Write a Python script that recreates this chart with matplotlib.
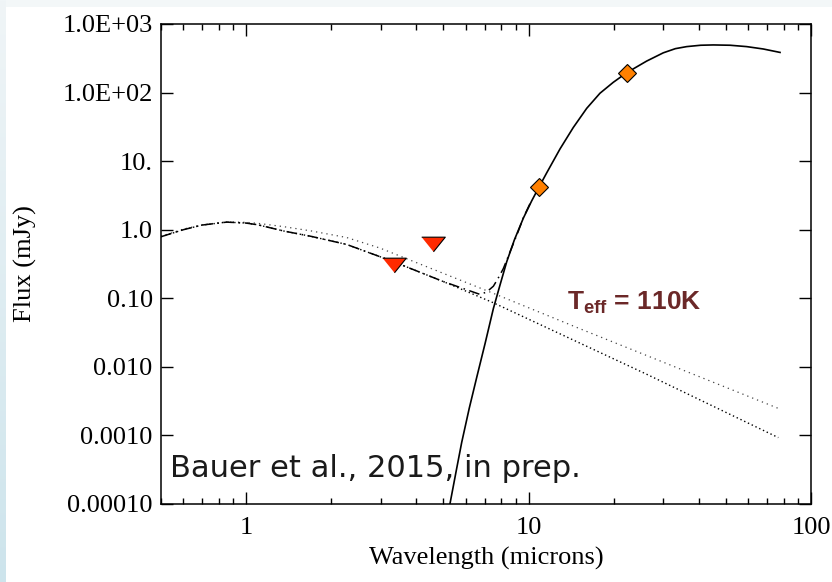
import numpy as np
import matplotlib
matplotlib.use("Agg")
import matplotlib.pyplot as plt
from matplotlib.ticker import FixedLocator, NullFormatter

plt.rcParams['mathtext.fontset'] = 'custom'
plt.rcParams['mathtext.bf'] = 'Liberation Sans:bold'
plt.rcParams['mathtext.rm'] = 'Liberation Sans'

# thermal model (solid)
thermal_x = [5.27, 5.56, 5.80, 6.17, 6.56, 7.02, 7.51, 7.94, 8.37, 8.91, 9.59, 10.26,
             10.92, 11.6, 12.93, 14.4, 16.07, 17.9, 19.95, 22.27, 26.2, 30.0, 33.1,
             36.3, 40.7, 45.1, 51.7, 59.2, 67.8, 77.7]
thermal_y = [1.0e-4, 3.2e-4, 7.9e-4, 2.5e-3, 7.1e-3, 0.022, 0.071, 0.16, 0.34, 0.71,
             1.48, 2.63, 4.27, 6.76, 15.1, 30.9, 58.9, 97.7, 141, 195, 288, 380, 437,
             468, 490, 495, 490, 468, 432, 385]

# reflected light (lower dotted)
refl_x = [0.5, 0.6, 0.7, 0.854, 1.0, 1.1, 1.355, 1.7, 2.27, 3.0, 3.51, 5.0, 7.51, 26.2, 76.6]
refl_y = [0.79, 1.0, 1.17, 1.29, 1.25, 1.18, 0.96, 0.80, 0.61, 0.40, 0.313, 0.175,
          0.086, 0.0078, 9.3e-4]

# second reflected model (upper, sparse dots)
refl2_x = [0.5, 0.6, 0.7, 0.854, 1.0, 1.1, 1.355, 1.7, 2.27, 2.98, 7.51, 15.2, 76.6]
refl2_y = [0.80, 1.02, 1.18, 1.30, 1.28, 1.24, 1.11, 0.96, 0.77, 0.54, 0.118, 0.036, 0.00248]

# total (dash-dot)
total_x = [0.5, 0.6, 0.7, 0.854, 1.0, 1.1, 1.355, 1.7, 2.27, 3.0, 3.51, 5.0, 6.73, 7.1,
           7.51, 7.8, 8.14, 8.5, 8.84, 9.2, 9.59, 10.26]
total_y = [0.79, 1.0, 1.17, 1.29, 1.25, 1.18, 0.96, 0.80, 0.61, 0.40, 0.313, 0.175, 0.114,
           0.123, 0.15, 0.195, 0.27, 0.42, 0.63, 0.95, 1.5, 2.7]

# upper limits (W1, W2) and detections (W3, W4)
lim_x = [3.35, 4.6]
lim_y = [0.31, 0.61]
det_x = [10.92, 22.27]
det_y = [4.2, 196]

ytick_vals = [1e3, 1e2, 1e1, 1e0, 1e-1, 1e-2, 1e-3, 1e-4]
ytick_labels = ['1.0E+03', '1.0E+02', '10.', '1.0', '0.10', '0.010', '0.0010', '0.00010']
xtick_vals = [1, 10, 100]
xtick_labels = ['1', '10', '100']

W, H = 832, 582
fig = plt.figure(figsize=(W / 100, H / 100), dpi=100)

# slide background: light strip at top, bluish strip at left
bg = np.ones((H, W, 3))
bg[:7, :, :] = np.array([243, 247, 248]) / 255
grad = np.linspace(0, 1, H)[:, None]
top_c = np.array([240, 245, 247]) / 255
bot_c = np.array([205, 228, 236]) / 255
bg[:, :6, :] = (top_c * (1 - grad) + bot_c * grad)[:, None, :]
ax_bg = fig.add_axes([0, 0, 1, 1], zorder=-1)
ax_bg.imshow(bg, aspect='auto', extent=[0, 1, 0, 1])
ax_bg.axis('off')

ax = fig.add_axes([161 / W, 1 - 504 / H, 650 / W, 480 / H])
ax.set_xscale('log')
ax.set_yscale('log')
ax.set_xlim(0.5, 100)
ax.set_ylim(1e-4, 1e3)

ax.plot(refl2_x, refl2_y, color='#444444', lw=0.9, ls=(0, (1, 3.2)))
ax.plot(refl_x, refl_y, color='black', lw=1.0, ls=(0, (1, 2)))
ax.plot(total_x, total_y, color='black', lw=1.1, ls=(0, (7, 3, 1, 3)))
ax.plot(thermal_x, thermal_y, color='black', lw=1.2)

tri = [(-1, 0.62), (1, 0.62), (0, -0.62)]
ax.plot(lim_x, lim_y, ls='none', marker=tri, ms=17, mfc='#ff2a00', mec='black', mew=0.8, zorder=5)
ax.plot(det_x, det_y, ls='none', marker='D', ms=9.5, mfc='#ff8000', mec='black', mew=0.8, zorder=5)

serif = 'Liberation Serif'
ax.xaxis.set_major_locator(FixedLocator(xtick_vals))
ax.set_xticklabels(xtick_labels, fontfamily=serif, fontsize=19)
minor = [m * 10.0 ** e for e in (-1, 0, 1) for m in range(2, 10) if 0.5 <= m * 10.0 ** e <= 100]
ax.xaxis.set_minor_locator(FixedLocator(minor))
ax.xaxis.set_minor_formatter(NullFormatter())
ax.yaxis.set_major_locator(FixedLocator(ytick_vals))
ax.set_yticklabels(ytick_labels, fontfamily=serif, fontsize=19)
ax.yaxis.set_minor_locator(FixedLocator([]))

ax.tick_params(which='both', direction='in', top=True, right=True, width=1.0, color='black')
ax.tick_params(which='major', length=8.5)
ax.tick_params(which='minor', length=4.3)
ax.tick_params(axis='y', pad=6)
ax.tick_params(axis='x', pad=9)
for s in ax.spines.values():
    s.set_linewidth(1.1)

ax.set_xlabel('Wavelength (microns)', fontfamily=serif, fontsize=19, labelpad=6)
ax.set_ylabel('Flux (mJy)', fontfamily=serif, fontsize=19, labelpad=18)

ax.text(0.014, 0.056, 'Bauer et al., 2015, in prep.', transform=ax.transAxes,
        fontfamily='DejaVu Sans', fontsize=22, color='#1a1a1a', ha='left', va='baseline')
ax.text(0.625, 0.405, r'$\mathbf{T_{eff}}$ = 110K', transform=ax.transAxes,
        fontfamily='Liberation Sans', fontweight='bold', fontsize=19, color='#6b2828',
        ha='left', va='baseline')

fig.savefig('out.png', dpi=100)
